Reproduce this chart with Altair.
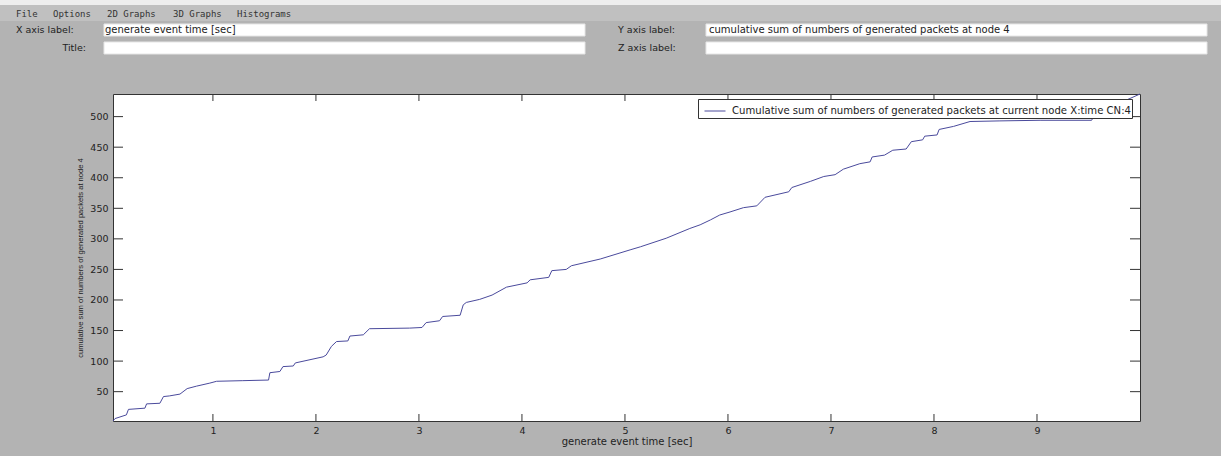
import altair as alt
import pandas as pd

# ---- data ----
time_sec = [0.03, 0.05, 0.16, 0.18, 0.34, 0.356, 0.485, 0.52, 0.576, 0.68, 0.75, 0.84,
            0.97, 1.036, 1.29, 1.54, 1.553, 1.65, 1.68, 1.78, 1.8, 2.07, 2.10, 2.15,
            2.20, 2.31, 2.33, 2.46, 2.52, 2.91, 3.03, 3.07, 3.20, 3.23, 3.40, 3.43,
            3.46, 3.59, 3.71, 3.85, 4.05, 4.08, 4.26, 4.29, 4.43, 4.48, 4.76, 5.05,
            5.15, 5.40, 5.63, 5.73, 5.83, 5.92, 6.02, 6.15, 6.28, 6.36, 6.59, 6.62,
            6.80, 6.93, 7.04, 7.12, 7.28, 7.38, 7.40, 7.52, 7.60, 7.73, 7.78, 7.89,
            7.91, 8.03, 8.05, 8.19, 8.35, 8.64, 9.03, 9.53, 9.58, 9.64, 9.80, 10.0]
cum_packets = [2, 6, 12, 21, 23, 30, 31, 42, 43, 46, 55, 59,
               64, 67, 68, 69, 81, 83, 91, 92, 97, 107, 110, 124,
               132, 133, 141, 143, 153, 154, 155, 163, 166, 173, 175, 192,
               196, 201, 208, 221, 228, 233, 237, 248, 250, 256, 267, 282,
               287, 301, 317, 323, 331, 339, 344, 351, 354, 368, 377, 384,
               394, 402, 405, 414, 423, 426, 434, 437, 445, 447, 459, 462,
               468, 470, 479, 484, 492, 493, 494, 494, 509, 511, 522, 537]
series_name = "Cumulative sum of numbers of generated packets at current node X:time CN:4"
x_ticks = [1, 2, 3, 4, 5, 6, 7, 8, 9]
y_ticks = [50, 100, 150, 200, 250, 300, 350, 400, 450, 500]
x_title = "generate event time [sec]"
y_title = "cumulative sum of numbers of generated packets at node 4"
menu_items = ["File", "Options", "2D Graphs", "3D Graphs", "Histograms"]

df = pd.DataFrame({"t": time_sec, "v": cum_packets, "s": series_name})
xt = pd.DataFrame({"t": x_ticks})
yt = pd.DataFrame({"v": y_ticks})

W, H = 1027, 327
LINE = "#4a4a9c"
FONT = "DejaVu Sans"
TXT = "#222"

xs = alt.Scale(domain=[0.03, 10.0], nice=False, zero=False)
ys = alt.Scale(domain=[2, 537], nice=False, zero=False)

x_axis = alt.Axis(values=x_ticks, format="d", title=x_title, ticks=False, domain=False,
                  grid=False, labelOverlap=False,
                  labelPadding=4, labelFontSize=9.5, labelFont=FONT, labelColor=TXT,
                  titleFont=FONT, titleFontSize=10, titleFontWeight="normal",
                  titleColor=TXT, titleY=20, titleBaseline="middle")
y_axis = alt.Axis(values=y_ticks, format="d", title=y_title, ticks=False, domain=False,
                  grid=False, labelOverlap=False,
                  labelPadding=5, labelFontSize=9.5, labelFont=FONT, labelColor=TXT,
                  titleFont="Liberation Sans", titleFontSize=7.6,
                  titleFontWeight="normal", titleColor=TXT,
                  titleX=-33, titleY=H / 2, titleAlign="center", titleBaseline="middle")

line = alt.Chart(df).mark_line(strokeWidth=1).encode(
    x=alt.X("t:Q", scale=xs, axis=x_axis),
    y=alt.Y("v:Q", scale=ys, axis=y_axis),
    color=alt.Color("s:N", scale=alt.Scale(domain=[series_name], range=[LINE]),
                    legend=alt.Legend(title=None, orient="none", legendX=585, legendY=5,
                                      fillColor="white", strokeColor="#333", padding=1,
                                      symbolType="stroke", symbolSize=441, symbolStrokeWidth=1,
                                      symbolOffset=5, labelOffset=6, labelLimit=800,
                                      labelFont=FONT, labelFontSize=10.1, labelColor=TXT,
                                      zindex=1)),
)

TICK = "#333"
tick_bottom = alt.Chart(xt).mark_rule(color=TICK, strokeWidth=1).encode(
    x=alt.X("t:Q", scale=xs, axis=x_axis), y=alt.value(H), y2=alt.value(H - 7))
tick_top = alt.Chart(xt).mark_rule(color=TICK, strokeWidth=1).encode(
    x=alt.X("t:Q", scale=xs, axis=x_axis), y=alt.value(0), y2=alt.value(7))
tick_left = alt.Chart(yt).mark_rule(color=TICK, strokeWidth=1).encode(
    y=alt.Y("v:Q", scale=ys, axis=y_axis), x=alt.value(0), x2=alt.value(10))
tick_right = alt.Chart(yt).mark_rule(color=TICK, strokeWidth=1).encode(
    y=alt.Y("v:Q", scale=ys, axis=y_axis), x=alt.value(W), x2=alt.value(W - 10))

# ---- GUI window decoration (pixel positions relative to plot origin 113,94) ----
OX, OY = 113, 94
one = alt.Data(values=[{}])


def box(x1, y1, x2, y2, fill, stroke=None):
    kw = dict(fill=fill)
    if stroke:
        kw.update(stroke=stroke, strokeWidth=1)
    return alt.Chart(one).mark_rect(**kw).encode(
        x=alt.value(x1 - OX), x2=alt.value(x2 - OX), y=alt.value(y1 - OY), y2=alt.value(y2 - OY))


def label(txt, x, y, align="left", size=9.5, font=FONT, color=TXT):
    return alt.Chart(one).mark_text(text=txt, align=align, baseline="middle", fontSize=size,
                                    font=font, color=color).encode(
        x=alt.value(x - OX), y=alt.value(y - OY))


deco = [
    box(0, 0, 1221, 5, "#eeeeee"),
    box(0, 5, 1221, 21, "#c0c0c0"),
    box(104, 24, 585, 36, "white", "#e6e6e6"),
    box(104, 42, 585, 54, "white", "#e6e6e6"),
    box(706, 24, 1207, 36, "white", "#e6e6e6"),
    box(706, 42, 1207, 54, "white", "#e6e6e6"),
    label("X axis label:", 16, 30),
    label("Title:", 86, 48, align="right"),
    label("Y axis label:", 618, 30),
    label("Z axis label:", 618, 48),
    label(x_title, 105, 30, size=10),
    label(y_title, 709, 30, size=10),
]
menu_x = [16, 53, 107, 173, 237]
for name, mx in zip(menu_items, menu_x):
    deco.append(label(name, mx, 14, size=9, font="DejaVu Sans Mono", color="#333"))

chart = alt.layer(*deco, line, tick_bottom, tick_top, tick_left, tick_right).properties(
    width=W, height=H,
    padding={"left": OX, "top": OY, "right": 1221 - OX - W, "bottom": 456 - OY - H},
    autosize=alt.AutoSizeParams(type="none"),
    background="#b3b3b3",
).configure_view(fill="white", stroke="#333", strokeWidth=1).configure_axis(labelOverlap=False)

chart.save("out.html", embed_options={"renderer": "svg", "actions": False})
